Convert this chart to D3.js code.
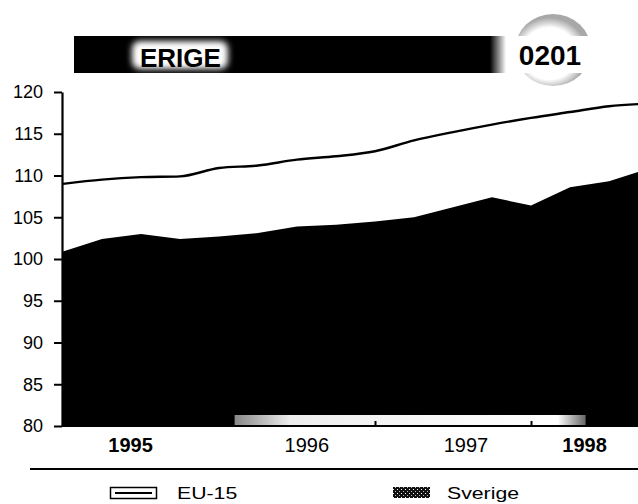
<!DOCTYPE html>
<html>
<head>
<meta charset="utf-8">
<script src="https://cdn.jsdelivr.net/npm/d3@7"></script>
<style>
	body { margin: 0; background: #fff; }
	svg { display: block; font-family: 'Liberation Sans', Arial, Helvetica, sans-serif; }
</style>
</head>
<body>
<div id="chart"></div>
<script>
// quarterly observations, decimal year
const periods = [ 1995, 1995.25, 1995.5, 1995.75, 1996, 1996.25, 1996.5, 1996.75, 1997, 1997.25, 1997.5, 1997.75, 1998, 1998.25, 1998.5, 1998.75 ];
const eu15 = [ 109.0, 109.5, 109.8, 109.9, 110.9, 111.2, 111.9, 112.3, 112.9, 114.2, 115.2, 116.1, 116.9, 117.6, 118.3, 118.6 ];
const sverige = [ 100.9, 102.4, 103.0, 102.4, 102.7, 103.1, 103.9, 104.1, 104.5, 105.0, 106.2, 107.4, 106.4, 108.6, 109.3, 110.8 ];

const yTicks = [ 80, 85, 90, 95, 100, 105, 110, 115, 120 ];
const yearTicks = [ 1996, 1997, 1998 ];
const yearLabels = [ '1995', '1996', '1997', '1998' ];
const yearLabelPos = [ 1995.43, 1996.56, 1997.58, 1998.34 ];
const boldYears = [ '1995', '1998' ];
const legendNames = [ 'EU-15', 'Sverige' ];
const headerText = 'ERIGE';
const headerCode = '0201';

const width = 638;
const height = 504;

const svg = d3.select('#chart').append('svg').attr('width', width).attr('height', height);
const defs = svg.append('defs');

// textures
const dots = defs.append('pattern').attr('id', 'dots').attr('width', 4).attr('height', 4)
	.attr('patternUnits', 'userSpaceOnUse');
dots.append('rect').attr('width', 4).attr('height', 4).attr('fill', '#111');
dots.append('rect').attr('x', 1).attr('y', 1).attr('width', 1).attr('height', 1).attr('fill', '#fff');
dots.append('rect').attr('x', 3).attr('y', 3).attr('width', 1).attr('height', 1).attr('fill', '#bbb');

const barFade = defs.append('linearGradient').attr('id', 'barFade');
barFade.append('stop').attr('offset', '0%').attr('stop-color', '#000');
barFade.append('stop').attr('offset', '100%').attr('stop-color', '#fff');

const ring = defs.append('radialGradient').attr('id', 'ring').attr('cx', '45%').attr('cy', '55%');
ring.append('stop').attr('offset', '0%').attr('stop-color', '#fff');
ring.append('stop').attr('offset', '72%').attr('stop-color', '#fff');
ring.append('stop').attr('offset', '100%').attr('stop-color', '#a8a8a8');

const blur = defs.append('filter').attr('id', 'soft').attr('x', '-20%').attr('y', '-20%')
	.attr('width', '140%').attr('height', '140%');
blur.append('feGaussianBlur').attr('stdDeviation', 3);

const stripFade = defs.append('linearGradient').attr('id', 'stripFade');
stripFade.append('stop').attr('offset', '0%').attr('stop-color', '#888');
stripFade.append('stop').attr('offset', '16%').attr('stop-color', '#eee');
stripFade.append('stop').attr('offset', '92%').attr('stop-color', '#fff');
stripFade.append('stop').attr('offset', '100%').attr('stop-color', '#666');

// header
const header = svg.append('g').attr('class', 'header');
header.append('rect').attr('x', 74).attr('y', 36).attr('width', 418).attr('height', 37).attr('fill', '#000');
header.append('rect').attr('x', 490).attr('y', 36).attr('width', 16).attr('height', 37).attr('fill', 'url(#barFade)');
header.append('rect').attr('x', 132).attr('y', 41).attr('width', 96).attr('height', 28).attr('rx', 8)
	.attr('fill', '#fff').attr('filter', 'url(#soft)');
header.append('text').attr('x', 140).attr('y', 67).attr('font-size', 26).attr('font-weight', 'bold')
	.attr('fill', '#000').text(headerText);
header.append('ellipse').attr('cx', 553).attr('cy', 50).attr('rx', 38).attr('ry', 36).attr('fill', 'url(#ring)');
header.append('rect').attr('x', 510).attr('y', 36).attr('width', 86).attr('height', 37).attr('fill', '#fff');
header.append('text').attr('x', 550).attr('y', 65).attr('text-anchor', 'middle').attr('font-size', 28)
	.attr('font-weight', 'bold').attr('fill', '#000').text(headerCode);

// plot
const x = d3.scaleLinear().domain([ 1995, 1999 ]).range([ 63, 687 ]);
const y = d3.scaleLinear().domain([ 80, 120 ]).range([ 426, 92 ]);

defs.append('clipPath').attr('id', 'plotClip').append('rect')
	.attr('x', 62).attr('y', 80).attr('width', width - 62).attr('height', 350);

const rows = periods.map((p, i) => ({ t: p, eu: eu15[i], se: sverige[i] }));

const plot = svg.append('g').attr('clip-path', 'url(#plotClip)');

const area = d3.area().x(d => x(d.t)).y0(y(80)).y1(d => y(d.se)).curve(d3.curveLinear);
plot.append('path').datum(rows).attr('d', area).attr('fill', '#000');

const line = d3.line().x(d => x(d.t)).y(d => y(d.eu)).curve(d3.curveMonotoneX);
plot.append('path').datum(rows).attr('d', line).attr('fill', 'none').attr('stroke', '#000')
	.attr('stroke-width', 2.4);

// washed-out strip along the base of the fill
plot.append('rect').attr('x', x(1996.1)).attr('y', 415).attr('width', x(1998.35) - x(1996.1)).attr('height', 10)
	.attr('fill', 'url(#stripFade)');

// year boundary ticks
const xTickAxis = d3.axisBottom(x).tickValues(yearTicks).tickSize(-5).tickFormat('');
const xt = svg.append('g').attr('transform', 'translate(0,426)').call(xTickAxis);
xt.select('.domain').remove();
xt.selectAll('line').attr('stroke', '#000').attr('stroke-width', 2);

svg.append('line').attr('x1', 62).attr('x2', width).attr('y1', 426).attr('y2', 426)
	.attr('stroke', '#000').attr('stroke-width', 2);

// year labels
const xLabelAxis = d3.axisBottom(x).tickValues(yearLabelPos).tickSize(0).tickPadding(12)
	.tickFormat((d, i) => yearLabels[i]);
const xl = svg.append('g').attr('transform', 'translate(0,426)').call(xLabelAxis);
xl.select('.domain').remove();
xl.selectAll('text').attr('font-size', 20).attr('fill', '#000')
	.attr('font-family', "'Liberation Sans', Arial, sans-serif")
	.attr('font-weight', (d, i) => (boldYears.includes(yearLabels[i]) ? 'bold' : 'normal'));

// y axis
const yAxis = d3.axisLeft(y).tickValues(yTicks).tickSize(8).tickPadding(11).tickSizeOuter(0);
const ya = svg.append('g').attr('transform', 'translate(62,0)').call(yAxis);
ya.select('.domain').attr('stroke', '#000').attr('stroke-width', 2.2);
ya.selectAll('line').attr('stroke', '#000').attr('stroke-width', 2);
ya.selectAll('text').attr('font-size', 18).attr('fill', '#000')
	.attr('font-family', "'Liberation Sans', Arial, sans-serif");

// separator
svg.append('line').attr('x1', 30).attr('x2', width).attr('y1', 469).attr('y2', 469)
	.attr('stroke', '#000').attr('stroke-width', 2);

// legend
const legend = svg.append('g').attr('class', 'legend');
legend.append('rect').attr('x', 110.5).attr('y', 487.5).attr('width', 46).attr('height', 11)
	.attr('fill', '#fff').attr('stroke', '#000').attr('stroke-width', 1.5);
legend.append('line').attr('x1', 115).attr('x2', 152).attr('y1', 493).attr('y2', 493)
	.attr('stroke', '#000').attr('stroke-width', 2);
legend.append('rect').attr('x', 393).attr('y', 487).attr('width', 37).attr('height', 11).attr('fill', 'url(#dots)');

legend.selectAll('text.lab').data(legendNames).enter().append('text').attr('class', 'lab')
	.attr('transform', (d, i) => `translate(${i === 0 ? 177 : 447},499) scale(1.25,1)`)
	.attr('font-size', 17).attr('fill', '#000').text(d => d);
</script>
</body>
</html>
